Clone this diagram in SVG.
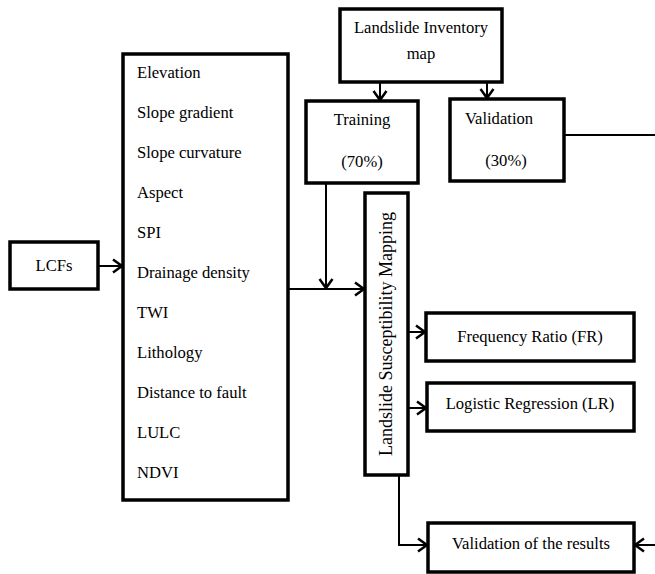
<svg xmlns="http://www.w3.org/2000/svg" width="655" height="574" viewBox="0 0 655 574">
<defs>
<style>
.box{fill:#fff;stroke:#000;stroke-width:3.5}
.t{font-family:"Liberation Serif","Times New Roman",serif;font-size:16.6px;fill:#000}
.c{text-anchor:middle}
.ln{fill:none;stroke:#000;stroke-width:2}
</style>
<marker id="ah" markerUnits="userSpaceOnUse" markerWidth="14" markerHeight="16" refX="10" refY="7" orient="auto" overflow="visible">
<path d="M1,0.5 L10,7 L1,13.5" fill="none" stroke="#000" stroke-width="2.5"/>
</marker>
</defs>
<rect width="655" height="574" fill="#fff"/>
<g id="connectors">
<line class="ln" x1="380" y1="82" x2="380" y2="100" marker-end="url(#ah)"/>
<line class="ln" x1="487" y1="82" x2="487" y2="98" marker-end="url(#ah)"/>
<line class="ln" x1="98" y1="266" x2="122" y2="266" marker-end="url(#ah)"/>
<line class="ln" x1="288" y1="289" x2="364" y2="289" marker-end="url(#ah)"/>
<line class="ln" x1="326" y1="183" x2="326" y2="288" marker-end="url(#ah)"/>
<line class="ln" x1="408" y1="332" x2="425" y2="332" marker-end="url(#ah)"/>
<line class="ln" x1="408" y1="408" x2="426" y2="408" marker-end="url(#ah)"/>
<polyline class="ln" points="399,475 399,545 427,545" marker-end="url(#ah)"/>
<polyline class="ln" points="564,135 662,135 662,545 635,545" marker-end="url(#ah)"/>
</g>
<g id="inventory">
<rect class="box" x="340" y="9" width="162" height="73"/>
<text class="t c" x="421" y="33">Landslide Inventory</text>
<text class="t c" x="421" y="59">map</text>
</g>
<g id="training">
<rect class="box" x="306" y="101" width="112" height="82"/>
<text class="t c" x="362" y="125">Training</text>
<text class="t c" x="362" y="167">(70%)</text>
</g>
<g id="validation">
<rect class="box" x="450" y="99" width="114" height="82"/>
<text class="t c" x="499" y="124">Validation</text>
<text class="t c" x="506" y="166">(30%)</text>
</g>
<g id="lcfs">
<rect class="box" x="10" y="242" width="88" height="47"/>
<text class="t c" x="54" y="271">LCFs</text>
</g>
<g id="factors">
<rect class="box" x="123" y="54" width="165" height="446"/>
<text class="t" x="137" y="78">Elevation</text>
<text class="t" x="137" y="118">Slope gradient</text>
<text class="t" x="137" y="158">Slope curvature</text>
<text class="t" x="137" y="198">Aspect</text>
<text class="t" x="137" y="238">SPI</text>
<text class="t" x="137" y="278">Drainage density</text>
<text class="t" x="137" y="318">TWI</text>
<text class="t" x="137" y="358">Lithology</text>
<text class="t" x="137" y="398">Distance to fault</text>
<text class="t" x="137" y="438">LULC</text>
<text class="t" x="137" y="478">NDVI</text>
</g>
<g id="lsm">
<rect class="box" x="365" y="193" width="43" height="282"/>
<text class="t c" style="font-size:18px" transform="translate(392,334) rotate(-90)">Landslide Susceptibility Mapping</text>
</g>
<g id="fr">
<rect class="box" x="426" y="313" width="208" height="48"/>
<text class="t c" x="530" y="342">Frequency Ratio (FR)</text>
</g>
<g id="lr">
<rect class="box" x="427" y="383" width="207" height="48"/>
<text class="t c" x="530" y="409">Logistic Regression (LR)</text>
</g>
<g id="valres">
<rect class="box" x="428" y="523" width="206" height="49"/>
<text class="t c" x="531" y="549">Validation of the results</text>
</g>
</svg>
